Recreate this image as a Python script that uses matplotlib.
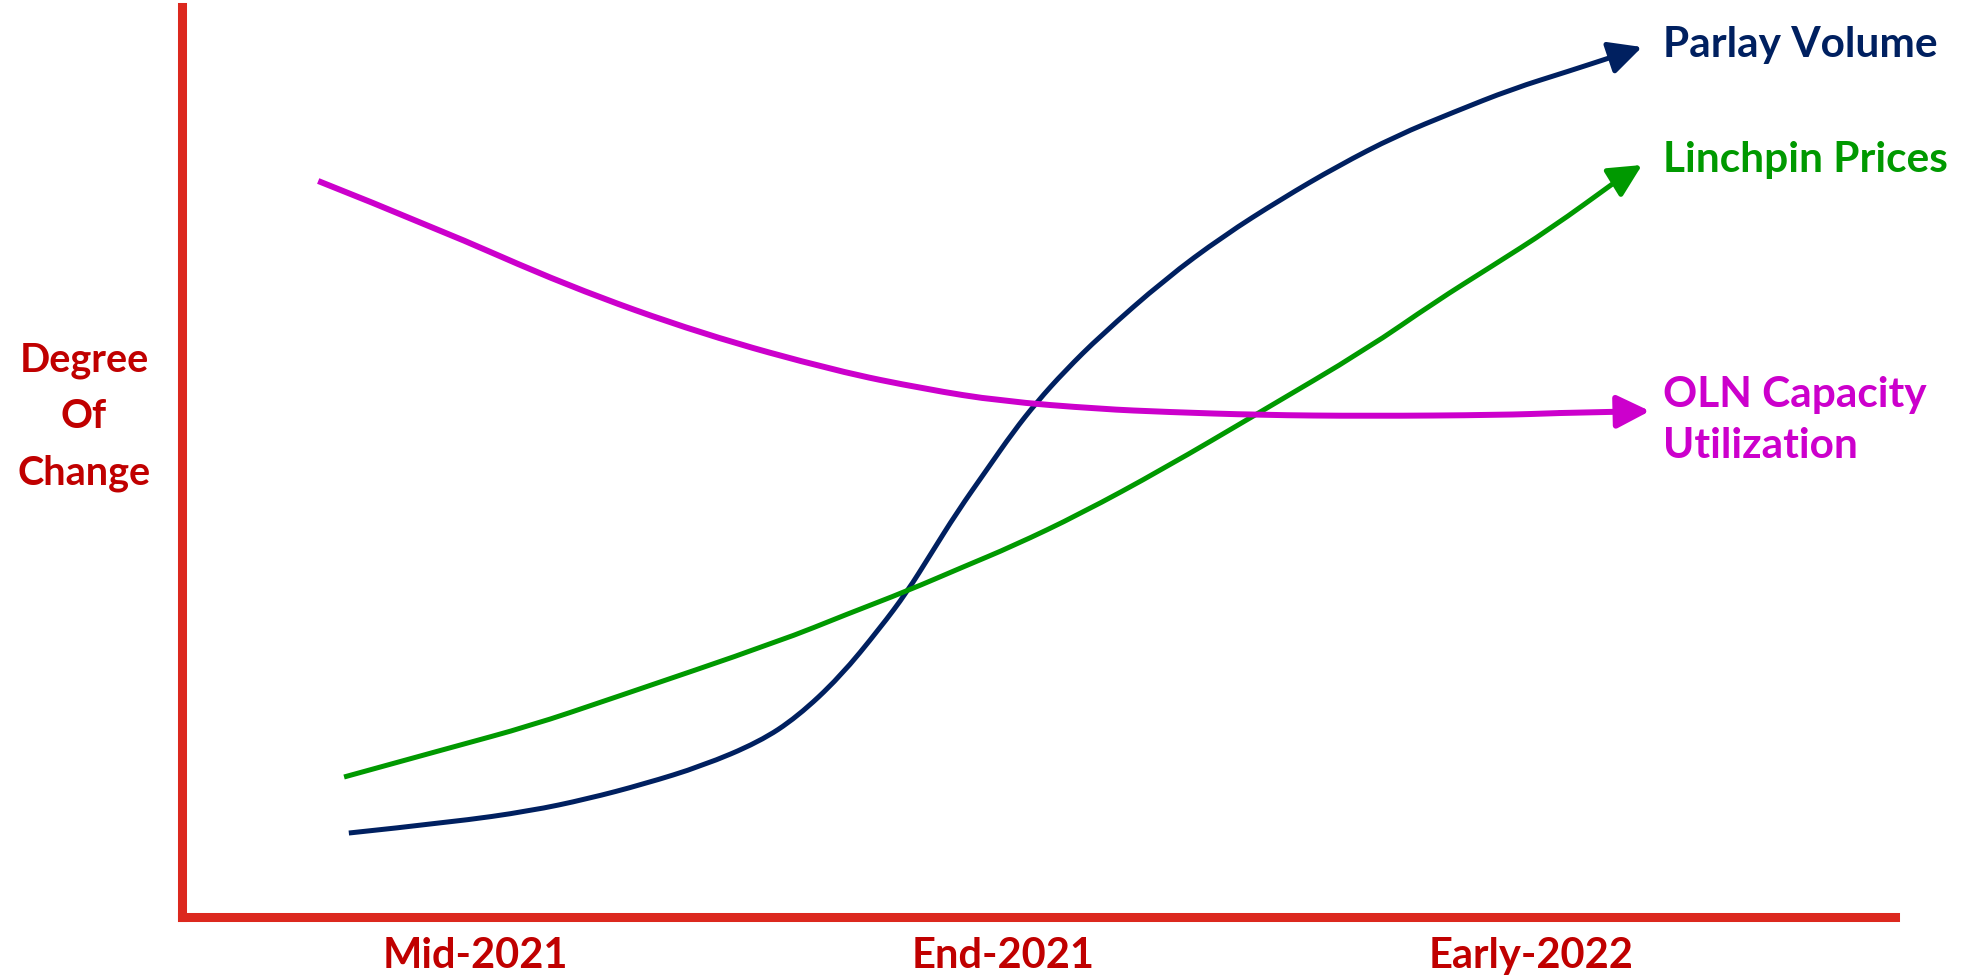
import matplotlib
matplotlib.use("Agg")
import matplotlib.pyplot as plt
from matplotlib.patches import FancyArrowPatch, PathPatch
from matplotlib.path import Path

plt.rcParams["font.family"] = ["Lato", "DejaVu Sans"]

# Period labels along the horizontal axis (positions 0, 1, 2)
periods = ["Mid-2021", "End-2021", "Early-2022"]

# Conceptual trend curves: x in period units, y as degree of change (0-100)
parlay_x = [-0.239, -0.042, 0.104, 0.212, 0.320, 0.430, 0.538, 0.610,
            0.691, 0.767, 0.818, 0.862, 0.913, 0.970, 1.019, 1.064, 1.117,
            1.184, 1.307, 1.417, 1.527, 1.634, 1.744, 1.854, 1.964, 2.072,
            2.159, 2.210]
parlay_y = [9.18, 10.39, 11.60, 12.92, 14.57, 16.55, 19.19, 21.94,
            26.34, 31.72, 35.68, 39.75, 44.48, 49.20, 53.27, 56.57, 59.98,
            63.83, 70.09, 74.82, 78.89, 82.52, 85.82, 88.46, 90.99, 92.96,
            94.61, 95.60]

linchpin_x = [-0.248, -0.042, 0.104, 0.256, 0.578, 0.705, 0.818, 0.924, 1.019,
              1.146, 1.303, 1.487, 1.689, 1.818, 1.926, 2.036, 2.167, 2.210]
linchpin_y = [15.34, 18.64, 20.95, 23.91, 30.29, 33.26, 35.79, 38.43, 40.74,
              44.26, 49.20, 55.47, 62.40, 67.57, 71.52, 75.59, 81.09, 82.63]

oln_x = [-0.297, -0.078, 0.176, 0.430, 0.684, 0.852, 0.994, 1.184, 1.311,
         1.487, 1.689, 1.941, 2.055, 2.225]
oln_y = [80.87, 75.81, 69.32, 64.05, 59.98, 58.00, 56.68, 55.80, 55.47,
         55.14, 55.03, 55.14, 55.36, 55.58]

series = [
    ("Parlay Volume", parlay_x, parlay_y, "#002060", 3.6),
    ("Linchpin Prices", linchpin_x, linchpin_y, "#009900", 3.6),
    ("OLN Capacity\nUtilization", oln_x, oln_y, "#CC00CC", 4.3),
]

# Label anchors (start x, baseline y of the last line) beside each arrow head
label_pos = {
    "Parlay Volume": (2.25, 94.6),
    "Linchpin Prices": (2.25, 82.0),
    "OLN Capacity\nUtilization": (2.25, 50.5),
}

axis_red = "#DC281E"
text_red = "#C00000"


def smooth_path(xs, ys):
    """Quadratic-Bezier path through segment midpoints of a polyline."""
    pts = list(zip(xs, ys))
    verts = [pts[0]]
    codes = [Path.MOVETO]
    for i in range(1, len(pts) - 1):
        mid = ((pts[i][0] + pts[i + 1][0]) / 2, (pts[i][1] + pts[i + 1][1]) / 2)
        verts += [pts[i], mid]
        codes += [Path.CURVE3, Path.CURVE3]
    verts.append(pts[-1])
    codes.append(Path.LINETO)
    return Path(verts, codes)


fig = plt.figure(figsize=(19.74, 9.79), dpi=100)
ax = fig.add_axes([0.09245, 0.0628, 0.8675, 0.929])
ax.set_xlim(-0.554, 2.689)
ax.set_ylim(0, 100)

for name, xs, ys, color, lw in series:
    curve = PathPatch(smooth_path(xs[:-1], ys[:-1]), fill=False,
                      edgecolor=color, lw=lw, capstyle="butt",
                      joinstyle="round")
    ax.add_patch(curve)
    arrow = FancyArrowPatch((xs[-2], ys[-2]), (xs[-1], ys[-1]),
                            arrowstyle="-|>,head_length=20,head_width=10",
                            mutation_scale=1, color=color, lw=lw,
                            shrinkA=0, shrinkB=0)
    ax.add_patch(arrow)
    tx, ty = label_pos[name]
    ax.text(tx, ty, name, color=color, fontsize=30.5, fontweight="bold",
            ha="left", va="baseline", linespacing=1.42, clip_on=False)

for side in ("top", "right"):
    ax.spines[side].set_visible(False)
for side in ("left", "bottom"):
    ax.spines[side].set_color(axis_red)
    ax.spines[side].set_linewidth(6.5)

ax.set_xticks(range(len(periods)))
ax.set_xticklabels(periods, fontsize=30, fontweight="bold", color=text_red)
ax.tick_params(axis="x", length=0, pad=14)
ax.set_yticks([])

ax.set_ylabel("Degree\nOf\nChange", rotation=0, fontsize=28.5,
              fontweight="bold", color=text_red, ha="center", va="center",
              linespacing=1.64)
ax.yaxis.set_label_coords(-0.0575, 0.5503)

fig.savefig("out.png", dpi=100, facecolor="white")
